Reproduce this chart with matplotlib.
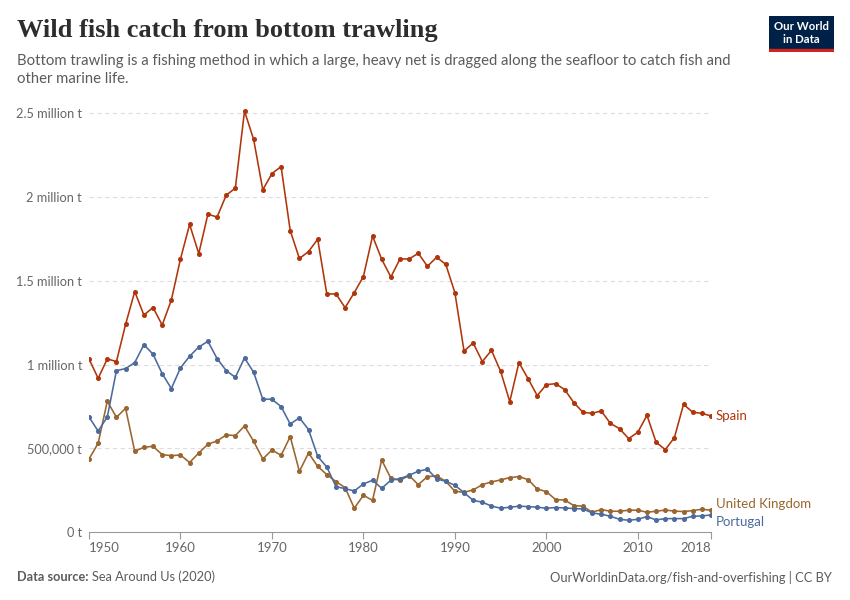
import numpy as np
import matplotlib.pyplot as plt

years = np.arange(1950, 2019)

# catch in million tonnes
spain = [1.034, 0.918, 1.034, 1.018, 1.240, 1.436, 1.296, 1.341, 1.236, 1.385,
         1.631, 1.837, 1.663, 1.899, 1.881, 2.012, 2.054, 2.514, 2.345, 2.044,
         2.141, 2.183, 1.800, 1.634, 1.675, 1.749, 1.422, 1.422, 1.340, 1.430,
         1.526, 1.768, 1.629, 1.523, 1.631, 1.631, 1.665, 1.587, 1.641, 1.599,
         1.430, 1.081, 1.129, 1.018, 1.085, 0.960, 0.779, 1.012, 0.916, 0.815,
         0.880, 0.886, 0.851, 0.773, 0.715, 0.709, 0.723, 0.649, 0.617, 0.558,
         0.596, 0.697, 0.536, 0.492, 0.564, 0.763, 0.715, 0.709, 0.693]
portugal = [0.687, 0.603, 0.687, 0.964, 0.976, 1.012, 1.119, 1.062, 0.946, 0.857,
            0.980, 1.050, 1.105, 1.139, 1.036, 0.964, 0.924, 1.040, 0.954, 0.793,
            0.793, 0.749, 0.645, 0.682, 0.612, 0.452, 0.388, 0.271, 0.259, 0.245,
            0.287, 0.309, 0.261, 0.309, 0.319, 0.339, 0.363, 0.375, 0.317, 0.303,
            0.279, 0.235, 0.189, 0.178, 0.155, 0.142, 0.148, 0.154, 0.152, 0.148,
            0.142, 0.146, 0.144, 0.140, 0.138, 0.114, 0.106, 0.094, 0.076, 0.070,
            0.076, 0.092, 0.072, 0.080, 0.080, 0.080, 0.094, 0.096, 0.102]
uk = [0.436, 0.530, 0.781, 0.685, 0.739, 0.482, 0.506, 0.512, 0.462, 0.456,
      0.460, 0.415, 0.472, 0.524, 0.544, 0.580, 0.576, 0.633, 0.542, 0.436,
      0.490, 0.458, 0.570, 0.362, 0.472, 0.392, 0.343, 0.301, 0.265, 0.142,
      0.219, 0.189, 0.430, 0.321, 0.309, 0.337, 0.283, 0.331, 0.335, 0.303,
      0.243, 0.237, 0.251, 0.283, 0.299, 0.311, 0.325, 0.331, 0.313, 0.257,
      0.241, 0.194, 0.191, 0.158, 0.154, 0.118, 0.134, 0.124, 0.124, 0.130,
      0.130, 0.118, 0.124, 0.131, 0.125, 0.122, 0.128, 0.136, 0.130]

names = ['Spain', 'United Kingdom', 'Portugal']
colors = ['#b0350b', '#9a652e', '#4c6a9c']
ytick_vals = [0, 0.5, 1, 1.5, 2, 2.5]
ytick_labels = ['0 t', '500,000 t', '1 million t', '1.5 million t', '2 million t', '2.5 million t']
xtick_vals = [1950, 1960, 1970, 1980, 1990, 2000, 2010, 2018]

plt.rcParams['font.family'] = ['Lato', 'DejaVu Sans']
grey = '#5b5b5b'

fig = plt.figure(figsize=(8.5, 6), dpi=100)
fig.patch.set_facecolor('white')
ax = fig.add_axes([89 / 850, 1 - 532 / 600, (711 - 89) / 850, (532 - 105.1) / 600])

for series, name, c in zip([spain, uk, portugal], names, colors):
    ax.plot(years, series, color=c, lw=1.15, marker='o', markersize=2.6, zorder=3)

ax.set_xlim(1950, 2018)
ax.set_ylim(0, 2.55)

for s in ['top', 'right', 'left']:
    ax.spines[s].set_visible(False)
ax.spines['bottom'].set_color('#999999')
ax.spines['bottom'].set_linewidth(0.8)

ax.set_yticks(ytick_vals)
ax.set_yticklabels(ytick_labels)
ax.tick_params(axis='y', length=0, pad=5, labelsize=9.2, labelcolor='#666666')
for v in ytick_vals[1:]:
    ax.axhline(v, color='#dddddd', lw=0.8, ls=(0, (4, 3)), zorder=1)

ax.set_xticks(xtick_vals)
ax.set_xticklabels([str(v) for v in xtick_vals])
ax.tick_params(axis='x', length=5, width=0.8, color='#999999', labelsize=9.5,
               labelcolor='#666666', pad=2)
labs = ax.get_xticklabels()
labs[0].set_horizontalalignment('left')
labs[-1].set_horizontalalignment('right')

# end labels
ax.annotate('Spain', xy=(2018, spain[-1]), xytext=(3.5, 0), textcoords='offset points',
            va='center', ha='left', color=colors[0], fontsize=9.5, annotation_clip=False)
ax.annotate('United Kingdom', xy=(2018, 0.168), xytext=(3.5, 0), textcoords='offset points',
            va='center', ha='left', color=colors[1], fontsize=9.5, annotation_clip=False)
ax.annotate('Portugal', xy=(2018, 0.058), xytext=(3.5, 0), textcoords='offset points',
            va='center', ha='left', color=colors[2], fontsize=9.5, annotation_clip=False)

# header
fig.text(17 / 850, 1 - 31 / 600, 'Wild fish catch from bottom trawling',
         family=['Liberation Serif', 'DejaVu Serif'], weight='bold', fontsize=19,
         color='#2d2d2d', va='center', ha='left')
fig.text(17 / 850, 1 - 61 / 600,
         'Bottom trawling is a fishing method in which a large, heavy net is dragged along the seafloor to catch fish and',
         fontsize=10.7, color=grey, va='center', ha='left')
fig.text(17 / 850, 1 - 79 / 600, 'other marine life.',
         fontsize=10.7, color=grey, va='center', ha='left')

# logo
logo = fig.add_axes([769 / 850, 1 - 52 / 600, 65 / 850, 36 / 600])
logo.set_xlim(0, 1)
logo.set_ylim(0, 1)
logo.axis('off')
logo.add_patch(plt.Rectangle((0, 0), 1, 1, color='#002147'))
logo.add_patch(plt.Rectangle((0, 0), 1, 0.09, color='#ce261e'))
logo.text(0.5, 0.7, 'Our World', color='white', fontsize=8.2, weight='bold',
          ha='center', va='center')
logo.text(0.5, 0.35, 'in Data', color='white', fontsize=8.2, weight='bold',
          ha='center', va='center')

# footer
fig.text(17 / 850, 1 - 577 / 600, 'Data source:', fontsize=9.2, weight='bold',
         color=grey, va='center', ha='left')
fig.text(92 / 850, 1 - 577 / 600, 'Sea Around Us (2020)', fontsize=9.2,
         color=grey, va='center', ha='left')
fig.text(832 / 850, 1 - 577 / 600, 'OurWorldinData.org/fish-and-overfishing | CC BY',
         fontsize=9.3, color=grey, va='center', ha='right')

fig.savefig('out.png', dpi=100, facecolor='white')
